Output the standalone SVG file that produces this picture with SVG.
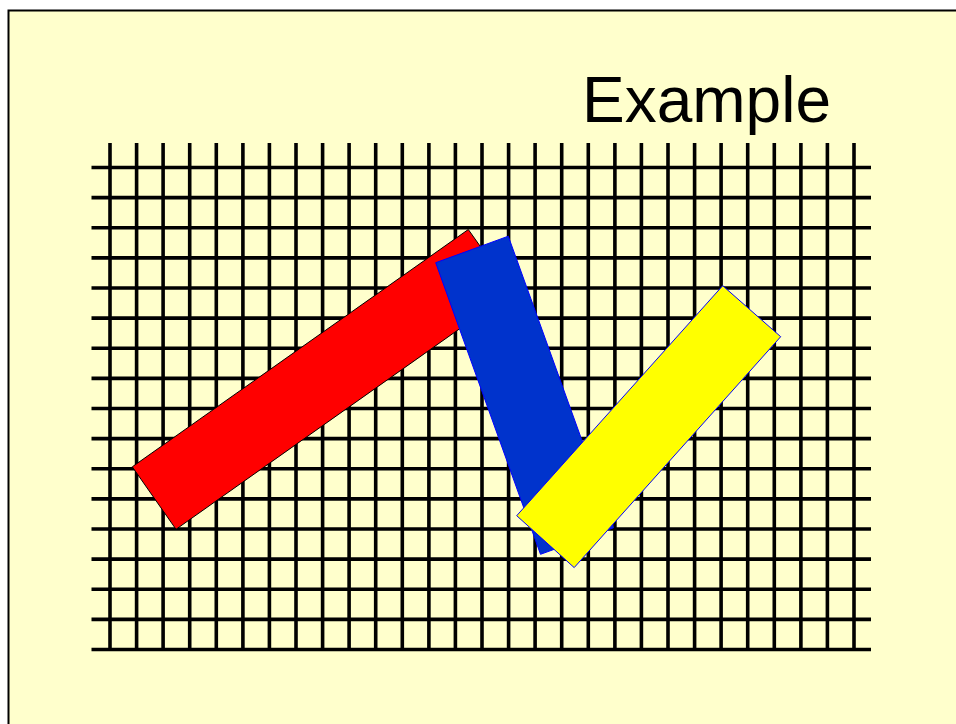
<svg xmlns="http://www.w3.org/2000/svg" width="956" height="724" viewBox="0 0 956 724">
<style>
.grid line{stroke:#000;stroke-width:3.6}
.title{font-family:"Liberation Sans",Arial,sans-serif;font-size:64px;fill:#000}
</style>
<rect x="0" y="0" width="956" height="724" fill="#fff"/>
<rect id="frame" x="8.5" y="10.5" width="960" height="730" fill="#FFFFCC" stroke="#000" stroke-width="2"/>
<text class="title" x="582" y="122">Example</text>
<g id="grid" class="grid">
<line x1="110" y1="143" x2="110" y2="651"/>
<line x1="136.6" y1="143" x2="136.6" y2="651"/>
<line x1="163.1" y1="143" x2="163.1" y2="651"/>
<line x1="189.7" y1="143" x2="189.7" y2="651"/>
<line x1="216.3" y1="143" x2="216.3" y2="651"/>
<line x1="242.9" y1="143" x2="242.9" y2="651"/>
<line x1="269.4" y1="143" x2="269.4" y2="651"/>
<line x1="296" y1="143" x2="296" y2="651"/>
<line x1="322.6" y1="143" x2="322.6" y2="651"/>
<line x1="349.1" y1="143" x2="349.1" y2="651"/>
<line x1="375.7" y1="143" x2="375.7" y2="651"/>
<line x1="402.3" y1="143" x2="402.3" y2="651"/>
<line x1="428.9" y1="143" x2="428.9" y2="651"/>
<line x1="455.4" y1="143" x2="455.4" y2="651"/>
<line x1="482" y1="143" x2="482" y2="651"/>
<line x1="508.6" y1="143" x2="508.6" y2="651"/>
<line x1="535.1" y1="143" x2="535.1" y2="651"/>
<line x1="561.7" y1="143" x2="561.7" y2="651"/>
<line x1="588.3" y1="143" x2="588.3" y2="651"/>
<line x1="614.9" y1="143" x2="614.9" y2="651"/>
<line x1="641.4" y1="143" x2="641.4" y2="651"/>
<line x1="668" y1="143" x2="668" y2="651"/>
<line x1="694.6" y1="143" x2="694.6" y2="651"/>
<line x1="721.1" y1="143" x2="721.1" y2="651"/>
<line x1="747.7" y1="143" x2="747.7" y2="651"/>
<line x1="774.3" y1="143" x2="774.3" y2="651"/>
<line x1="800.9" y1="143" x2="800.9" y2="651"/>
<line x1="827.4" y1="143" x2="827.4" y2="651"/>
<line x1="854" y1="143" x2="854" y2="651"/>
<line x1="91.5" y1="167.5" x2="871" y2="167.5"/>
<line x1="91.5" y1="197.6" x2="871" y2="197.6"/>
<line x1="91.5" y1="227.7" x2="871" y2="227.7"/>
<line x1="91.5" y1="257.9" x2="871" y2="257.9"/>
<line x1="91.5" y1="288" x2="871" y2="288"/>
<line x1="91.5" y1="318.1" x2="871" y2="318.1"/>
<line x1="91.5" y1="348.2" x2="871" y2="348.2"/>
<line x1="91.5" y1="378.4" x2="871" y2="378.4"/>
<line x1="91.5" y1="408.5" x2="871" y2="408.5"/>
<line x1="91.5" y1="438.6" x2="871" y2="438.6"/>
<line x1="91.5" y1="468.7" x2="871" y2="468.7"/>
<line x1="91.5" y1="498.9" x2="871" y2="498.9"/>
<line x1="91.5" y1="529" x2="871" y2="529"/>
<line x1="91.5" y1="559.1" x2="871" y2="559.1"/>
<line x1="91.5" y1="589.2" x2="871" y2="589.2"/>
<line x1="91.5" y1="619.4" x2="871" y2="619.4"/>
<line x1="91.5" y1="649.5" x2="871" y2="649.5"/>
</g>
<g id="red">
<polygon points="468.3,229.5 512.3,291.5 176,529.3 132.3,466.8" fill="#FF0000" stroke="#000" stroke-width="1"/>
</g>
<g id="blue">
<polygon points="435.7,262.7 508.3,236.2 613.5,527.8 540.5,554.3" fill="#0033CC" stroke="#0000FF" stroke-width="1"/>
</g>
<g id="yellow">
<polygon points="722.7,285.7 780.7,336.7 574.2,567.6 516.7,515.7" fill="#FFFF00" stroke="#0000FF" stroke-width="1"/>
</g>
</svg>
